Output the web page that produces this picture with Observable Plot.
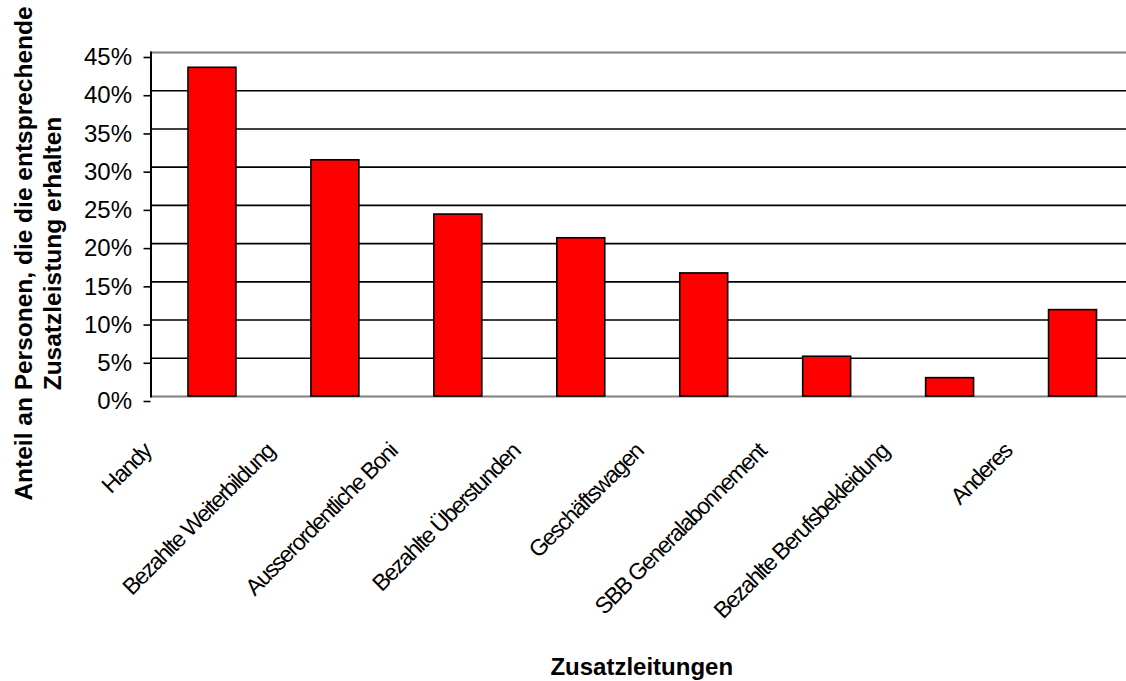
<!DOCTYPE html>
<html><head><meta charset="utf-8">
<script src="https://cdn.jsdelivr.net/npm/d3@7"></script>
<script src="https://cdn.jsdelivr.net/npm/@observablehq/plot@0.6"></script>
<style>
html,body{margin:0;padding:0;background:#fff;overflow:hidden}
g[aria-label="x-axis tick label"] text{letter-spacing:-1.5px}
</style>
</head><body><div id="chart"></div>
<script>
const categories = ["Handy","Bezahlte Weiterbildung","Ausserordentliche Boni","Bezahlte Überstunden","Geschäftswagen","SBB Generalabonnement","Bezahlte Berufsbekleidung","Anderes"];
const shares = [43.0, 30.9, 23.8, 20.7, 16.1, 5.2, 2.4, 11.3];
const yTicks = [0, 5, 10, 15, 20, 25, 30, 35, 40, 45];
const xTitle = "Zusatzleitungen";
const yTitle = "Anteil an Personen, die die entsprechende\nZusatzleistung erhalten";

const data = categories.map((c, i) => ({category: c, share: shares[i]}));
const innerGrid = yTicks.filter(t => t > 0 && t < 45);
const outerGrid = [yTicks[0], yTicks[yTicks.length - 1]];

const chart = Plot.plot({
  width: 1126, height: 681,
  marginLeft: 150.5, marginRight: 0, marginTop: 52, marginBottom: 285,
  style: {fontFamily: "'Liberation Sans', Arial, sans-serif", background: "#fff", color: "#000"},
  x: {domain: categories, range: [150.5, 1134], paddingInner: 0.61, paddingOuter: 0.305, align: 0.5, round: false},
  y: {domain: [0, 45]},
  marks: [
    Plot.ruleY(innerGrid, {stroke: "#000", strokeWidth: 1.6}),
    Plot.ruleY(outerGrid, {stroke: "#808080", strokeWidth: 2}),
    Plot.barY(data, {x: "category", y: "share", fill: "#ff0000", stroke: "#000", strokeWidth: 1.6}),
    Plot.frame({anchor: "left", stroke: "#000", strokeWidth: 2}),
    Plot.axisY({ticks: yTicks, tickFormat: d => d + "%", tickSize: 7, tickPadding: 12, fontSize: 24, dy: 5, strokeWidth: 1.6, label: null}),
    Plot.axisX({tickSize: 0, tickPadding: 0, tickRotate: -45, fontSize: 23, dx: -65, dy: 51, label: null}),
    Plot.text([yTitle], {text: d => d, frameAnchor: "left", rotate: -90, fontSize: 24.5, fontWeight: "bold", dx: -113.5, dy: 29, lineHeight: 1.15, textAnchor: "middle", lineAnchor: "middle"}),
    Plot.text([xTitle], {text: d => d, frameAnchor: "bottom", dx: 3, dy: 271, fontSize: 24, fontWeight: "bold", textAnchor: "middle", lineAnchor: "middle"})
  ]
});
document.getElementById("chart").appendChild(chart);
</script>
</body></html>
